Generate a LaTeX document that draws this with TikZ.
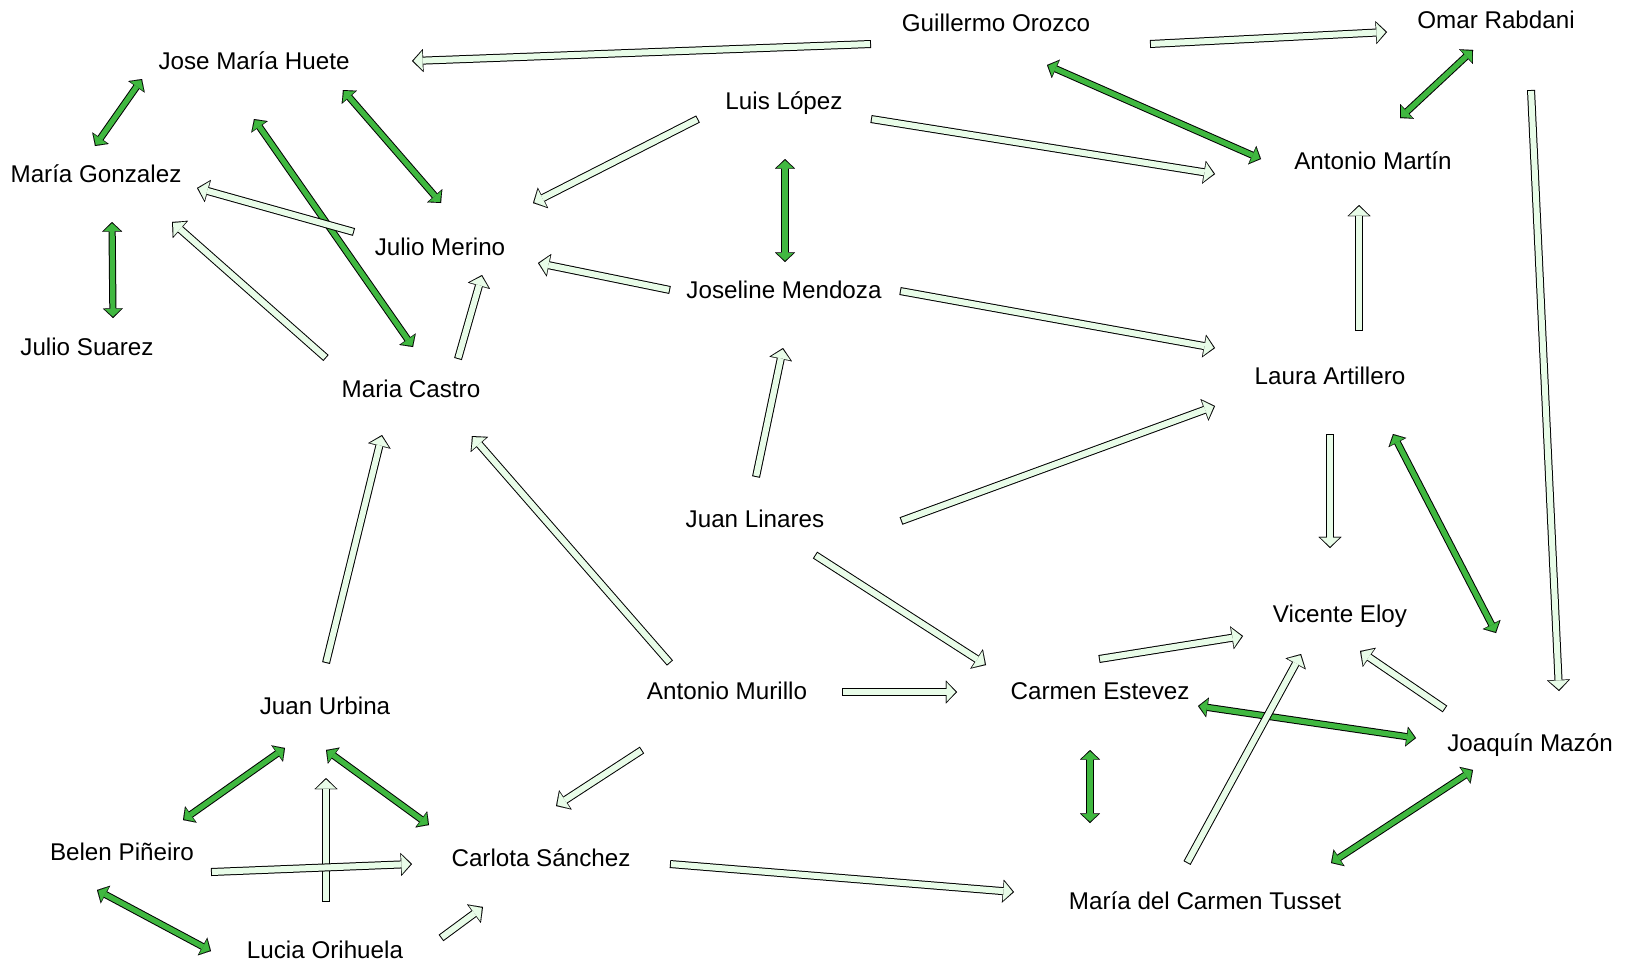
\documentclass[tikz,border=0pt]{standalone}
\usepackage{fontspec}
\setmainfont{Liberation Sans}
\usetikzlibrary{arrows.meta}

\definecolor{palelink}{RGB}{232,252,232}
\definecolor{darklink}{RGB}{64,184,64}

% block arrows: a black rim drawn first, the coloured body on top
\newcommand{\palearrow}[4]{%
  \draw[palerim] ([shift={(#2)}]#1.center) -- ([shift={(#4)}]#3.center);
  \draw[palebody] ([shift={(#2)}]#1.center) -- ([shift={(#4)}]#3.center);}
\newcommand{\darkarrow}[4]{%
  \draw[darkrim] ([shift={(#2)}]#1.center) -- ([shift={(#4)}]#3.center);
  \draw[darkbody] ([shift={(#2)}]#1.center) -- ([shift={(#4)}]#3.center);}

\begin{document}
\begin{tikzpicture}[x=0.5pt,y=-0.5pt]
    \tikzstyle{person} = [font=\fontsize{12.1pt}{14pt}\selectfont,text height=8.7pt,
                          text depth=0pt,inner sep=0pt]
    \tikzstyle{palerim} = [draw=black,line width=4pt,
                           -{Triangle[length=5.6pt,width=11.5pt,line width=0.01pt]}]
    \tikzstyle{palebody} = [draw=palelink,line width=3pt,shorten <=0.5pt,shorten >=0.75pt,
                            -{Triangle[length=4.5pt,width=9.6pt,line width=0.01pt]}]
    \tikzstyle{darkrim} = [draw=black,line width=3.6pt,
                           {Triangle[length=4.8pt,width=10pt,line width=0.01pt]}-{Triangle[length=4.8pt,width=10pt,line width=0.01pt]}]
    \tikzstyle{darkbody} = [draw=darklink,line width=2.6pt,shorten <=0.7pt,shorten >=0.7pt,
                            {Triangle[length=3.8pt,width=8.2pt,line width=0.01pt]}-{Triangle[length=3.8pt,width=8.2pt,line width=0.01pt]}]

    \useasboundingbox (0,0) rectangle (1632,966);
    \fill[white] (0,0) rectangle (1632,966);

    \node[person] (huete)    at (254,61)   {Jose María Huete};
    \node[person] (gonzalez) at (96,174)   {María Gonzalez};
    \node[person] (suarez)   at (87,347)   {Julio Suarez};
    \node[person] (merino)   at (440,247)  {Julio Merino};
    \node[person] (castro)   at (411,389)  {Maria Castro};
    \node[person] (orozco)   at (996,23)   {Guillermo Orozco};
    \node[person] (luis)     at (784,101)  {Luis López};
    \node[person] (joseline) at (784,290)  {Joseline Mendoza};
    \node[person] (omar)     at (1496,20)  {Omar Rabdani};
    \node[person] (martin)   at (1373,161) {Antonio Martín};
    \node[person] (laura)    at (1330,376) {Laura Artillero};
    \node[person] (linares)  at (755,519)  {Juan Linares};
    \node[person] (urbina)   at (325,706)  {Juan Urbina};
    \node[person] (murillo)  at (727,691)  {Antonio Murillo};
    \node[person] (estevez)  at (1100,691) {Carmen Estevez};
    \node[person] (vicente)  at (1340,614) {Vicente Eloy};
    \node[person] (joaquin)  at (1530,743) {Joaquín Mazón};
    \node[person] (belen)    at (122,852)  {Belen Piñeiro};
    \node[person] (carlota)  at (541,858)  {Carlota Sánchez};
    \node[person] (lucia)    at (325,950)  {Lucia Orihuela};
    \node[person] (tusset)   at (1205,901) {María del Carmen Tusset};

    % mutual links
    \darkarrow{huete}{-112,18}{gonzalez}{-1,-28}
    \darkarrow{gonzalez}{16,48}{suarez}{26,-29}
    \darkarrow{huete}{0,58}{castro}{2,-42}
    \darkarrow{huete}{89,29}{merino}{1,-44}
    \darkarrow{luis}{1,58}{joseline}{1,-28}
    \darkarrow{orozco}{51,42}{martin}{-112,-2}
    \darkarrow{omar}{-23,30}{martin}{27,-43}
    \darkarrow{laura}{63,58}{joaquin}{-34,-110}
    \darkarrow{estevez}{98,15}{joaquin}{-114,-5}
    \darkarrow{estevez}{-10,59}{tusset}{-115,-78}
    \darkarrow{joaquin}{-57,27}{tusset}{126,-38}
    \darkarrow{urbina}{-40,42}{belen}{61,-32}
    \darkarrow{urbina}{1,44}{carlota}{-112,-33}
    \darkarrow{belen}{-25,38}{lucia}{-114,1}

    % one-way links
    \palearrow{orozco}{-125,21}{huete}{158,0}
    \palearrow{orozco}{154,21}{omar}{-109,12}
    \palearrow{luis}{-86,18}{merino}{93,-44}
    \palearrow{luis}{87,18}{martin}{-158,13}
    \palearrow{joseline}{-114,0}{merino}{98,16}
    \palearrow{joseline}{116,1}{laura}{-115,-28}
    \palearrow{linares}{1,-42}{joseline}{-1,58}
    \palearrow{linares}{146,2}{laura}{-115,30}
    \palearrow{linares}{60,36}{estevez}{-114,-26}
    \palearrow{laura}{29,-45}{martin}{-14,44}
    \palearrow{laura}{0,58}{vicente}{-10,-66}
    \palearrow{omar}{35,70}{joaquin}{29,-52}
    \palearrow{merino}{-86,-15}{gonzalez}{101,14}
    \palearrow{castro}{-85,-31}{gonzalez}{76,48}
    \palearrow{castro}{47,-30}{merino}{42,28}
    \palearrow{urbina}{1,-43}{castro}{-29,46}
    \palearrow{murillo}{-57,-28}{castro}{61,47}
    \palearrow{murillo}{115,1}{estevez}{-143,1}
    \palearrow{murillo}{-85,59}{carlota}{15,-52}
    \palearrow{carlota}{129,6}{tusset}{-191,-9}
    \palearrow{lucia}{1,-48}{urbina}{1,72}
    \palearrow{belen}{89,20}{carlota}{-129,6}
    \palearrow{lucia}{116,-12}{carlota}{-58,49}
    \palearrow{estevez}{-1,-32}{vicente}{-97,22}
    \palearrow{tusset}{-18,-38}{vicente}{-39,40}
    \palearrow{joaquin}{-85,-34}{vicente}{20,37}
\end{tikzpicture}
\end{document}
